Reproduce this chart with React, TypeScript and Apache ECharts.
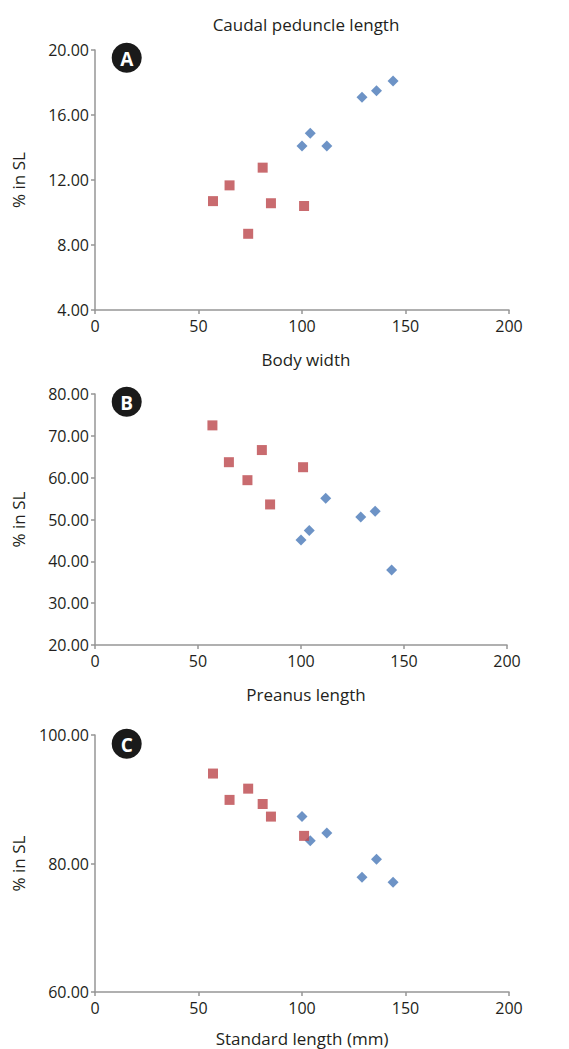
import React, { useEffect, useRef } from "react";
import * as echarts from "echarts";

// Standard length (mm) – x values shared by all panels
const redX = [57, 65, 74, 81, 85, 101];
const blueX = [100, 104, 112, 129, 136, 144];

// Panel A: Caudal peduncle length (% in SL)
const redA = [10.7, 11.67, 8.69, 12.76, 10.57, 10.4];
const blueA = [14.09, 14.87, 14.09, 17.09, 17.5, 18.09];

// Panel B: Body width (% in SL)
const redB = [72.5, 63.7, 59.4, 66.6, 53.6, 62.5];
const blueB = [45.1, 47.4, 55.1, 50.6, 52.0, 37.9];

// Panel C: Preanus length (% in SL)
const redC = [94.0, 89.9, 91.65, 89.26, 87.3, 84.3];
const blueC = [87.3, 83.55, 84.75, 77.85, 80.65, 77.1];

const panelTitles = ["Caudal peduncle length", "Body width", "Preanus length"];
const xName = "Standard length (mm)";
const yName = "% in SL";
const badges = ["A", "B", "C"];
const yRanges = [
  { min: 4, max: 20, interval: 4 },
  { min: 20, max: 80, interval: 10 },
  { min: 60, max: 100, interval: 20 },
];
const xTicks = { min: 0, max: 200, interval: 50 };

const TEXT = "#231f20";
const AXIS = "#969696";
const BLUE = "#4878b8";
const RED = "#bb464b";
const FONT = "'Open Sans', 'Noto Sans', sans-serif";

export default function App() {
  const ref = useRef<HTMLDivElement>(null);
  useEffect(() => {
    document.body.style.margin = "0";
    const chart = echarts.init(ref.current!, null, { renderer: "svg" });
    const grids = [
      { left: 95, width: 414, top: 50, height: 260 },
      { left: 95, width: 412, top: 394, height: 251 },
      { left: 95, width: 414, top: 735, height: 257 },
    ];
    const zip = (xs: number[], ys: number[]) => xs.map((x, i) => [x, ys[i]]);
    const reds = [redA, redB, redC];
    const blues = [blueA, blueB, blueC];
    const titleTops = [11, 346, 681];

    const option: any = {
      animation: false,
      backgroundColor: "#ffffff",
      textStyle: { fontFamily: FONT, color: TEXT },
      title: panelTitles.map((t, i) => ({
        text: t,
        left: 301,
        textAlign: "center",
        top: titleTops[i],
        textStyle: { fontFamily: FONT, fontSize: 17, fontWeight: "normal", color: TEXT },
      })),
      grid: grids,
      xAxis: grids.map((_, i) => ({
        gridIndex: i,
        type: "value",
        min: xTicks.min,
        max: xTicks.max,
        interval: xTicks.interval,
        name: i === 2 ? xName : "",
        nameLocation: "middle",
        nameGap: 38,
        nameTextStyle: { fontFamily: FONT, fontSize: 17, color: TEXT },
        axisLine: { show: true, lineStyle: { color: AXIS, width: 1.5 } },
        axisTick: { show: true, length: 4, lineStyle: { color: AXIS, width: 1.5 } },
        axisLabel: { fontFamily: FONT, fontSize: 16, color: TEXT, margin: 8 },
        splitLine: { show: false },
      })),
      yAxis: grids.map((_, i) => ({
        gridIndex: i,
        type: "value",
        min: yRanges[i].min,
        max: yRanges[i].max,
        interval: yRanges[i].interval,
        name: yName,
        nameLocation: "middle",
        nameRotate: 90,
        nameGap: 68,
        nameTextStyle: { fontFamily: FONT, fontSize: 17, color: TEXT },
        axisLine: { show: true, lineStyle: { color: AXIS, width: 1.5 } },
        axisTick: { show: true, length: 4, lineStyle: { color: AXIS, width: 1.5 } },
        axisLabel: {
          fontFamily: FONT,
          fontSize: 16,
          color: TEXT,
          margin: 6,
          formatter: (v: number) => v.toFixed(2),
        },
        splitLine: { show: false },
      })),
      series: [0, 1, 2].flatMap((i) => [
        {
          type: "scatter",
          xAxisIndex: i,
          yAxisIndex: i,
          symbol: "diamond",
          symbolSize: 11,
          itemStyle: { color: BLUE },
          data: zip(blueX, blues[i]),
        },
        {
          type: "scatter",
          xAxisIndex: i,
          yAxisIndex: i,
          symbol: "rect",
          symbolSize: 10,
          itemStyle: { color: RED },
          data: zip(redX, reds[i]),
        },
      ]),
      graphic: badges.flatMap((b, i) => {
        const cy = [57.7, 401.7, 743.7][i];
        return [
          {
            type: "circle",
            shape: { cx: 126.7, cy, r: 15 },
            style: { fill: "#1a1a1a" },
            z: 100,
          },
          {
            type: "text",
            x: 126.7,
            y: cy + 1,
            style: {
              text: b,
              fill: "#ffffff",
              font: "bold 19px 'Open Sans', sans-serif",
              textAlign: "center",
              textVerticalAlign: "middle",
            },
            z: 101,
          },
        ];
      }),
    };
    chart.setOption(option);
    return () => chart.dispose();
  }, []);
  return <div ref={ref} style={{ width: 569, height: 1049 }} />;
}
